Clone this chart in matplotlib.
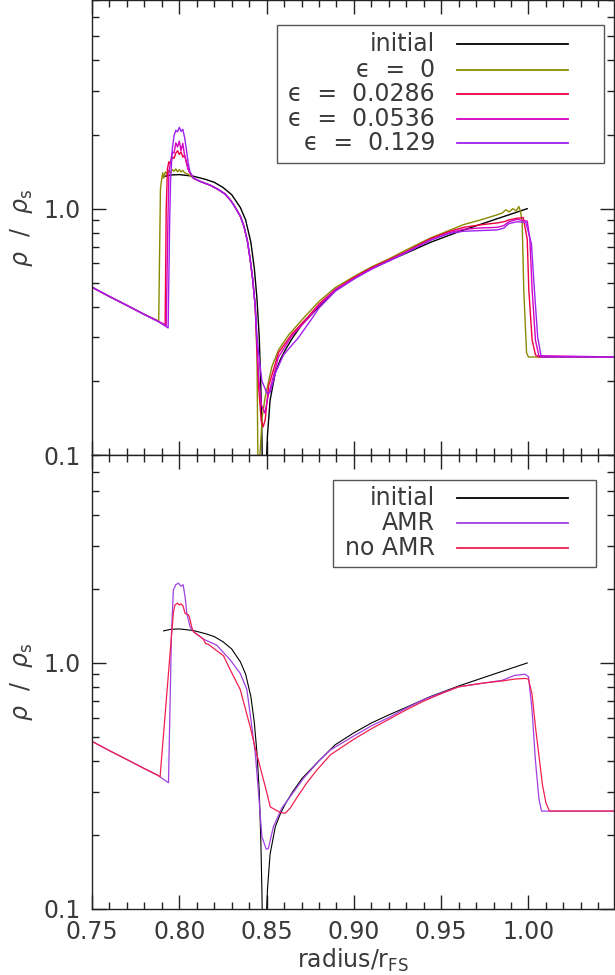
import matplotlib
matplotlib.use('Agg')
import matplotlib.pyplot as plt
from matplotlib.ticker import LogLocator, MultipleLocator, FuncFormatter, NullFormatter
from matplotlib.patches import Rectangle

plt.rcParams['font.family'] = ['DejaVu Sans']
plt.rcParams['mathtext.fontset'] = 'dejavusans'

# initial self-similar profile (same in both panels)
r_init = [0.791, 0.795, 0.80, 0.808, 0.815, 0.82, 0.825, 0.83, 0.835, 0.838,
          0.841, 0.843, 0.8445, 0.8458, 0.8467, 0.8473, 0.8477, 0.8485, 0.8495, 0.8505,
          0.852, 0.855, 0.858, 0.8607, 0.865, 0.8704, 0.88, 0.8893, 0.90, 0.91,
          0.92, 0.93, 0.9438, 0.96, 0.98, 0.9993]
rho_init = [1.35, 1.37, 1.375, 1.355, 1.315, 1.28, 1.22, 1.14, 1.01, 0.90,
            0.73, 0.57, 0.43, 0.30, 0.19, 0.12, 0.08, 0.02, 0.08, 0.12,
            0.167, 0.216, 0.245, 0.267, 0.30, 0.34, 0.40, 0.465, 0.52, 0.57,
            0.615, 0.66, 0.73, 0.806, 0.90, 1.0]

# top panel: eps = 0
r_e0 = [0.75, 0.76, 0.77, 0.78, 0.7875, 0.7882, 0.7892, 0.7898, 0.7905, 0.791,
        0.792, 0.793, 0.794, 0.795, 0.796, 0.797, 0.798, 0.799, 0.800, 0.801,
        0.802, 0.803, 0.805, 0.8081, 0.812, 0.8177, 0.822, 0.826, 0.829, 0.831,
        0.833, 0.835, 0.837, 0.839, 0.8405, 0.842, 0.8435, 0.8445, 0.8451, 0.8453,
        0.8456, 0.8458, 0.8475, 0.8492, 0.853, 0.8568, 0.8626, 0.8721, 0.88, 0.8893,
        0.90, 0.91, 0.92, 0.93, 0.9438, 0.9629, 0.9725, 0.982, 0.985, 0.987,
        0.989, 0.991, 0.993, 0.9945, 0.9955, 0.9964, 0.9973, 0.9989, 1.0, 1.05]
rho_e0 = [0.48, 0.44, 0.405, 0.372, 0.352, 0.35, 1.2, 1.30, 1.40, 1.33,
          1.41, 1.38, 1.43, 1.40, 1.44, 1.42, 1.45, 1.41, 1.44, 1.41,
          1.43, 1.40, 1.38, 1.33, 1.29, 1.245, 1.20, 1.15, 1.09, 1.04,
          0.985, 0.93, 0.85, 0.74, 0.63, 0.52, 0.40, 0.25, 0.08, 0.05,
          0.05, 0.09, 0.143, 0.172, 0.228, 0.267, 0.307, 0.366, 0.42, 0.478,
          0.53, 0.58, 0.625, 0.68, 0.76, 0.862, 0.90, 0.944, 0.96, 0.99,
          0.97, 1.0, 0.98, 1.02, 0.97, 0.877, 0.467, 0.26, 0.25, 0.25]

# top panel: eps = 0.0286
r_e1 = [0.75, 0.76, 0.77, 0.78, 0.7875, 0.7919, 0.7925, 0.7932, 0.794, 0.795,
        0.796, 0.797, 0.798, 0.799, 0.800, 0.801, 0.802, 0.803, 0.804, 0.805,
        0.806, 0.8081, 0.812, 0.8177, 0.822, 0.826, 0.829, 0.831, 0.833, 0.835,
        0.837, 0.839, 0.8405, 0.842, 0.8435, 0.8454, 0.8469, 0.848, 0.8492, 0.8511,
        0.8568, 0.8645, 0.874, 0.88, 0.8893, 0.90, 0.91, 0.92, 0.93, 0.9438,
        0.955, 0.9629, 0.9725, 0.982, 0.986, 0.9887, 0.9935, 0.997, 0.9993, 1.0002,
        1.0021, 1.004, 1.006, 1.05]
rho_e1 = [0.48, 0.44, 0.405, 0.372, 0.35, 0.338, 1.0, 1.45, 1.55, 1.52,
          1.62, 1.60, 1.68, 1.72, 1.66, 1.70, 1.62, 1.65, 1.55, 1.45,
          1.40, 1.33, 1.29, 1.245, 1.20, 1.15, 1.09, 1.04, 0.985, 0.93,
          0.85, 0.74, 0.63, 0.52, 0.40, 0.19, 0.139, 0.13, 0.139, 0.19,
          0.26, 0.31, 0.366, 0.41, 0.47, 0.525, 0.575, 0.62, 0.67, 0.755,
          0.81, 0.84, 0.86, 0.875, 0.885, 0.90, 0.915, 0.92, 0.75, 0.467,
          0.293, 0.255, 0.25, 0.25]

# top panel: eps = 0.0536
r_e2 = [0.75, 0.76, 0.77, 0.78, 0.7875, 0.7925, 0.7935, 0.794, 0.795, 0.796,
        0.797, 0.798, 0.799, 0.800, 0.801, 0.802, 0.803, 0.804, 0.805, 0.806,
        0.8081, 0.812, 0.8177, 0.822, 0.826, 0.829, 0.831, 0.833, 0.835, 0.837,
        0.839, 0.8405, 0.842, 0.8435, 0.8454, 0.847, 0.849, 0.851, 0.8568, 0.8645,
        0.874, 0.88, 0.8893, 0.90, 0.91, 0.92, 0.93, 0.9438, 0.955, 0.9629,
        0.9725, 0.982, 0.986, 0.9887, 0.9935, 0.9993, 1.0008, 1.0021, 1.004, 1.0059,
        1.05]
rho_e2 = [0.48, 0.44, 0.405, 0.372, 0.35, 0.335, 0.9, 1.4, 1.55, 1.70,
          1.68, 1.85, 1.78, 1.88, 1.72, 1.84, 1.65, 1.55, 1.45, 1.40,
          1.33, 1.29, 1.245, 1.20, 1.15, 1.09, 1.04, 0.985, 0.93, 0.85,
          0.74, 0.63, 0.52, 0.40, 0.21, 0.16, 0.148, 0.175, 0.25, 0.305,
          0.36, 0.405, 0.468, 0.52, 0.57, 0.615, 0.665, 0.745, 0.80, 0.825,
          0.835, 0.84, 0.855, 0.885, 0.905, 0.89, 0.75, 0.467, 0.293, 0.253,
          0.25]

# top panel: eps = 0.129
r_e3 = [0.75, 0.76, 0.77, 0.78, 0.7875, 0.7936, 0.7945, 0.795, 0.796, 0.797,
        0.798, 0.799, 0.800, 0.801, 0.802, 0.803, 0.804, 0.805, 0.806, 0.8081,
        0.812, 0.8177, 0.822, 0.826, 0.829, 0.831, 0.833, 0.835, 0.837, 0.839,
        0.8405, 0.842, 0.8435, 0.8444, 0.8454, 0.8473, 0.8502, 0.8521, 0.855, 0.8597,
        0.8683, 0.875, 0.88, 0.8893, 0.90, 0.91, 0.92, 0.93, 0.9438, 0.955,
        0.9629, 0.9725, 0.982, 0.986, 0.9887, 0.9935, 0.9985, 1.0017, 1.0034, 1.0053,
        1.0073, 1.05]
rho_e3 = [0.48, 0.44, 0.405, 0.372, 0.35, 0.328, 0.9, 1.3, 1.75, 1.98,
          2.08, 2.05, 2.14, 2.06, 2.10, 1.95, 1.75, 1.55, 1.42, 1.33,
          1.29, 1.245, 1.20, 1.15, 1.09, 1.04, 0.985, 0.93, 0.85, 0.74,
          0.63, 0.52, 0.40, 0.31, 0.26, 0.20, 0.178, 0.18, 0.215, 0.255,
          0.30, 0.35, 0.395, 0.462, 0.518, 0.568, 0.613, 0.663, 0.745, 0.795,
          0.81, 0.815, 0.82, 0.835, 0.87, 0.885, 0.88, 0.72, 0.467, 0.30,
          0.25, 0.25]

# bottom panel: AMR
r_amr = [0.75, 0.76, 0.77, 0.78, 0.7875, 0.7938, 0.7955, 0.7966, 0.798, 0.7995,
         0.801, 0.8022, 0.8033, 0.8043, 0.8062, 0.8081, 0.8138, 0.8215, 0.8291, 0.8349,
         0.8387, 0.8406, 0.8435, 0.8454, 0.8473, 0.8498, 0.851, 0.8539, 0.8587, 0.8712,
         0.88, 0.8865, 0.90, 0.91, 0.92, 0.93, 0.94, 0.95, 0.96, 0.975,
         0.985, 0.992, 0.998, 1.000, 1.002, 1.004, 1.006, 1.0075, 1.05]
rho_amr = [0.48, 0.44, 0.405, 0.372, 0.35, 0.326, 1.3, 1.98, 2.08, 2.11,
           2.05, 2.08, 1.86, 1.59, 1.40, 1.34, 1.25, 1.18, 1.03, 0.907,
           0.78, 0.62, 0.43, 0.296, 0.197, 0.175, 0.176, 0.216, 0.257, 0.34,
           0.40, 0.443, 0.505, 0.555, 0.60, 0.655, 0.71, 0.755, 0.80, 0.83,
           0.85, 0.89, 0.90, 0.88, 0.65, 0.40, 0.28, 0.25, 0.25]

# bottom panel: no AMR
r_noamr = [0.75, 0.76, 0.77, 0.78, 0.7875, 0.789, 0.7966, 0.7975, 0.799, 0.800,
           0.801, 0.8022, 0.8033, 0.8052, 0.806, 0.8071, 0.8081, 0.8138, 0.815, 0.8167,
           0.8253, 0.8291, 0.8349, 0.8406, 0.8435, 0.8454, 0.8482, 0.8502, 0.8521, 0.855,
           0.8578, 0.8607, 0.8635, 0.8674, 0.8731, 0.8788, 0.8865, 0.90, 0.91, 0.92,
           0.93, 0.94, 0.95, 0.96, 0.975, 0.985, 0.992, 0.998, 1.000, 1.002,
           1.004, 1.006, 1.008, 1.010, 1.012, 1.05]
rho_noamr = [0.48, 0.44, 0.405, 0.372, 0.35, 0.345, 1.60, 1.72, 1.75, 1.72,
             1.74, 1.70, 1.59, 1.57, 1.52, 1.40, 1.34, 1.25, 1.20, 1.19,
             1.07, 0.94, 0.78, 0.55, 0.45, 0.40, 0.335, 0.296, 0.26, 0.253,
             0.247, 0.245, 0.257, 0.284, 0.326, 0.367, 0.423, 0.49, 0.54, 0.59,
             0.645, 0.70, 0.75, 0.80, 0.83, 0.845, 0.86, 0.865, 0.86, 0.75,
             0.55, 0.42, 0.32, 0.27, 0.25, 0.25]

top_labels = ['initial', 'ϵ  =  0', 'ϵ  =  0.0286', 'ϵ  =  0.0536', 'ϵ  =  0.129']
top_colors = ['black', '#8a8a00', '#ee0040', '#d600c0', '#a020f0']
bot_labels = ['initial', 'AMR', 'no AMR']
bot_colors = ['black', '#a040e0', '#f02050']

TXT = '#3a3a3a'
FS = 17


def style_axes(ax, show_xlabels):
    ax.set_yscale('log')
    ax.set_xlim(0.75, 1.049)
    ax.set_ylim(0.1, 7.0)
    ax.xaxis.set_major_locator(MultipleLocator(0.05))
    ax.xaxis.set_minor_locator(MultipleLocator(0.01))
    ax.yaxis.set_major_locator(LogLocator(base=10))
    ax.yaxis.set_minor_locator(LogLocator(base=10, subs=range(2, 10)))
    ax.yaxis.set_major_formatter(FuncFormatter(lambda v, _: '%.1f' % v))
    ax.yaxis.set_minor_formatter(NullFormatter())
    ax.tick_params(which='both', direction='in', top=True, right=True,
                   color='#222222', width=1.0, labelsize=FS, labelcolor=TXT, pad=8)
    ax.tick_params(which='major', length=10)
    ax.tick_params(which='minor', length=5)
    if show_xlabels:
        ax.xaxis.set_major_formatter(FuncFormatter(lambda v, _: '%.2f' % v))
    else:
        ax.tick_params(axis='x', labelbottom=False)
    for s in ax.spines.values():
        s.set_color('#222222')
        s.set_linewidth(1.0)
    ax.set_ylabel(r'$\rho\ \ /\ \ \rho_{\rm s}$', fontsize=FS, color=TXT, labelpad=6)


def draw_key(ax, labels, colors, box, rows):
    x0, y0, x1, y1 = box
    ax.add_patch(Rectangle((x0, y0), x1 - x0, y1 - y0, transform=ax.transAxes,
                           facecolor='white', edgecolor='#555555', lw=1.0, zorder=5))
    for lab, c, y in zip(labels, colors, rows):
        ax.text(0.657, y, lab, transform=ax.transAxes, ha='right', va='center',
                fontsize=FS, color=TXT, zorder=6)
        ax.plot([0.699, 0.912], [y, y], transform=ax.transAxes, color=c, lw=1.3, zorder=6)


fig = plt.figure(figsize=(6.15, 9.75), dpi=100)
ax1 = fig.add_axes([0.1496, 0.5333, 0.8488, 0.4662])
ax2 = fig.add_axes([0.1496, 0.0677, 0.8488, 0.4656])

# top panel
ax1.plot(r_init, rho_init, color=top_colors[0], lw=1.0)
ax1.plot(r_e0, rho_e0, color=top_colors[1], lw=1.0)
ax1.plot(r_e1, rho_e1, color=top_colors[2], lw=1.0)
ax1.plot(r_e2, rho_e2, color=top_colors[3], lw=1.0)
ax1.plot(r_e3, rho_e3, color=top_colors[4], lw=1.0)
style_axes(ax1, False)
draw_key(ax1, top_labels, top_colors, (0.354, 0.642, 0.981, 0.945),
         [0.905, 0.848, 0.794, 0.740, 0.686])

# bottom panel
ax2.plot(r_init, rho_init, color=bot_colors[0], lw=0.8)
ax2.plot(r_amr, rho_amr, color=bot_colors[1], lw=0.9)
ax2.plot(r_noamr, rho_noamr, color=bot_colors[2], lw=0.9)
style_axes(ax2, True)
draw_key(ax2, bot_labels, bot_colors, (0.462, 0.753, 0.966, 0.945),
         [0.905, 0.850, 0.795])
ax2.set_xlabel(r'radius/r$_{\rm FS}$', fontsize=FS, color=TXT, labelpad=2)

fig.savefig('out.png', dpi=100)
